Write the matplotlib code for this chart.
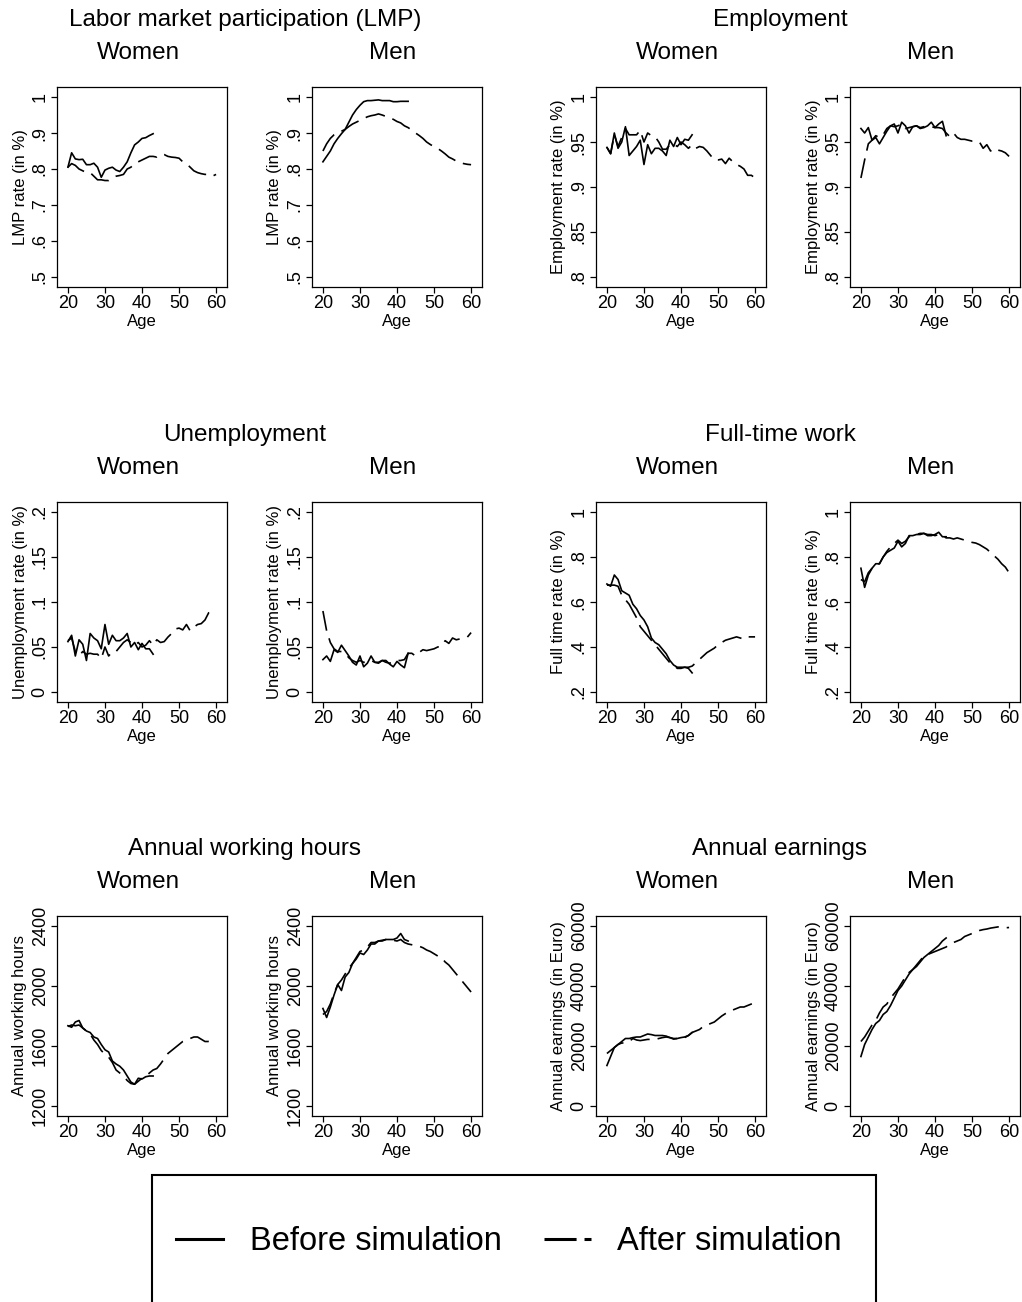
import numpy as np
import matplotlib
matplotlib.use("Agg")
import matplotlib.pyplot as plt
from matplotlib.lines import Line2D
from matplotlib.patches import Rectangle

plt.rcParams['font.family'] = ['Liberation Sans', 'DejaVu Sans']

W, H = 1022, 1302

age_before = np.arange(20, 44)
age_after = np.arange(20, 61)

# --- Labor market participation
lmp_women_before = [0.805, 0.845, 0.828, 0.826, 0.827, 0.812, 0.812, 0.816, 0.805, 0.777, 0.797, 0.802,
                    0.805, 0.797, 0.793, 0.805, 0.82, 0.845, 0.867, 0.875, 0.885, 0.887, 0.893, 0.898]
lmp_women_after = [0.805, 0.815, 0.81, 0.80, 0.795, 0.79, 0.79, 0.78, 0.77, 0.77, 0.768, 0.768, 0.775, 0.78,
                   0.782, 0.785, 0.80, 0.805, 0.815, 0.82, 0.825, 0.83, 0.835, 0.835, 0.833, 0.84, 0.84, 0.835,
                   0.833, 0.832, 0.83, 0.82, 0.815, 0.805, 0.795, 0.79, 0.787, 0.785, 0.785, 0.78, 0.785]
lmp_men_before = [0.82, 0.835, 0.85, 0.87, 0.885, 0.898, 0.91, 0.93, 0.95, 0.965, 0.977, 0.987,
                  0.99, 0.99, 0.991, 0.992, 0.99, 0.99, 0.99, 0.987, 0.987, 0.988, 0.988, 0.988]
lmp_men_after = [0.85, 0.87, 0.885, 0.895, 0.90, 0.905, 0.91, 0.918, 0.925, 0.93, 0.935, 0.94, 0.945, 0.948,
                 0.95, 0.953, 0.95, 0.946, 0.942, 0.938, 0.932, 0.928, 0.92, 0.915, 0.908, 0.90, 0.893, 0.885,
                 0.875, 0.868, 0.862, 0.857, 0.85, 0.842, 0.833, 0.828, 0.822, 0.818, 0.815, 0.813, 0.812]

# --- Employment
emp_women_before = [0.944, 0.937, 0.96, 0.943, 0.95, 0.967, 0.935, 0.94, 0.945, 0.952, 0.925, 0.947,
                    0.937, 0.943, 0.943, 0.94, 0.935, 0.952, 0.945, 0.955, 0.947, 0.953, 0.952, 0.958]
emp_women_after = [0.944, 0.937, 0.958, 0.945, 0.955, 0.965, 0.958, 0.958, 0.958, 0.963, 0.95, 0.96, 0.957,
                   0.956, 0.95, 0.942, 0.942, 0.947, 0.948, 0.945, 0.95, 0.947, 0.943, 0.947, 0.943, 0.945,
                   0.944, 0.94, 0.935, 0.93, 0.93, 0.931, 0.926, 0.932, 0.928, 0.925, 0.923, 0.92, 0.913,
                   0.913, 0.91]
emp_men_before = [0.965, 0.96, 0.966, 0.952, 0.955, 0.948, 0.955, 0.962, 0.968, 0.97, 0.96, 0.972,
                  0.968, 0.96, 0.967, 0.968, 0.965, 0.966, 0.968, 0.972, 0.966, 0.97, 0.973, 0.957]
emp_men_after = [0.91, 0.93, 0.948, 0.952, 0.957, 0.955, 0.958, 0.965, 0.968, 0.967, 0.968, 0.97, 0.965,
                 0.966, 0.967, 0.968, 0.966, 0.967, 0.967, 0.967, 0.966, 0.966, 0.965, 0.96, 0.956, 0.96,
                 0.955, 0.953, 0.953, 0.952, 0.951, 0.951, 0.95, 0.943, 0.947, 0.94, 0.943, 0.941, 0.94,
                 0.938, 0.934]

# --- Unemployment
unemp_women_before = [0.056, 0.063, 0.04, 0.058, 0.053, 0.035, 0.065, 0.06, 0.057, 0.048, 0.075, 0.053,
                      0.063, 0.057, 0.057, 0.06, 0.065, 0.05, 0.055, 0.047, 0.054, 0.048, 0.048, 0.042]
unemp_women_after = [0.057, 0.06, 0.045, 0.04, 0.045, 0.042, 0.043, 0.042, 0.042, 0.037, 0.05, 0.04, 0.045,
                     0.045, 0.05, 0.055, 0.058, 0.055, 0.052, 0.055, 0.05, 0.052, 0.057, 0.052, 0.058, 0.055,
                     0.056, 0.061, 0.065, 0.07, 0.071, 0.069, 0.075, 0.068, 0.072, 0.075, 0.076, 0.08, 0.088,
                     0.088, 0.091]
unemp_men_before = [0.036, 0.04, 0.034, 0.047, 0.044, 0.052, 0.046, 0.04, 0.033, 0.03, 0.04, 0.028,
                    0.032, 0.04, 0.033, 0.032, 0.035, 0.035, 0.031, 0.028, 0.034, 0.03, 0.027, 0.043]
unemp_men_after = [0.09, 0.068, 0.055, 0.048, 0.045, 0.045, 0.043, 0.038, 0.035, 0.033, 0.035, 0.033, 0.033,
                   0.035, 0.033, 0.033, 0.035, 0.033, 0.032, 0.033, 0.035, 0.035, 0.036, 0.043, 0.043, 0.04,
                   0.044, 0.047, 0.046, 0.047, 0.048, 0.05, 0.051, 0.057, 0.054, 0.06, 0.058, 0.059, 0.06,
                   0.061, 0.066]

# --- Full-time work
ft_women_before = [0.68, 0.67, 0.72, 0.70, 0.65, 0.64, 0.63, 0.59, 0.57, 0.54, 0.52, 0.49,
                   0.44, 0.42, 0.41, 0.39, 0.37, 0.34, 0.32, 0.31, 0.31, 0.31, 0.305, 0.285]
ft_women_after = [0.675, 0.675, 0.675, 0.67, 0.63, 0.61, 0.59, 0.56, 0.53, 0.49, 0.47, 0.45, 0.43, 0.41,
                  0.39, 0.37, 0.35, 0.33, 0.32, 0.305, 0.305, 0.31, 0.31, 0.315, 0.33, 0.345, 0.36, 0.375,
                  0.385, 0.395, 0.41, 0.42, 0.43, 0.435, 0.44, 0.445, 0.44, 0.435, 0.445, 0.445, 0.445]
ft_men_before = [0.75, 0.665, 0.72, 0.75, 0.77, 0.77, 0.80, 0.82, 0.83, 0.84, 0.87, 0.845,
                 0.86, 0.895, 0.895, 0.90, 0.90, 0.905, 0.895, 0.895, 0.90, 0.91, 0.89, 0.89]
ft_men_after = [0.70, 0.69, 0.73, 0.75, 0.77, 0.77, 0.80, 0.825, 0.845, 0.86, 0.875, 0.86, 0.87, 0.89,
                0.895, 0.90, 0.905, 0.905, 0.90, 0.90, 0.895, 0.90, 0.895, 0.885, 0.885, 0.88, 0.885, 0.88,
                0.875, 0.87, 0.865, 0.862, 0.855, 0.845, 0.835, 0.82, 0.805, 0.79, 0.77, 0.755, 0.73]

# --- Annual working hours
hours_women_before = [1735, 1725, 1760, 1770, 1720, 1700, 1690, 1660, 1650, 1610, 1575, 1560,
                      1500, 1480, 1465, 1440, 1400, 1360, 1345, 1385, 1380, 1395, 1400, 1400]
hours_women_after = [1730, 1740, 1735, 1740, 1720, 1700, 1680, 1640, 1610, 1570, 1545, 1525, 1490, 1440,
                     1420, 1400, 1370, 1350, 1345, 1365, 1385, 1395, 1420, 1440, 1450, 1480, 1515, 1550,
                     1570, 1590, 1610, 1630, 1640, 1650, 1660, 1660, 1645, 1630, 1630, 1625, 1620]
hours_men_before = [1850, 1790, 1860, 1940, 2010, 1970, 2060, 2090, 2150, 2180, 2220, 2210,
                    2240, 2280, 2280, 2300, 2300, 2310, 2310, 2310, 2320, 2350, 2310, 2300]
hours_men_after = [1810, 1830, 1880, 1950, 2010, 2040, 2080, 2120, 2150, 2190, 2230, 2240, 2260, 2290,
                   2290, 2300, 2305, 2310, 2310, 2305, 2300, 2310, 2290, 2280, 2275, 2270, 2265, 2255,
                   2240, 2230, 2215, 2200, 2190, 2160, 2140, 2110, 2080, 2050, 2020, 1990, 1960]

# --- Annual earnings
earn_women_before = [13500, 16500, 19500, 20500, 21500, 22500, 22500, 22800, 23000, 23000, 23500, 24000,
                     23800, 23500, 23500, 23500, 23300, 22800, 22500, 22500, 22800, 23000, 23500, 24500]
earn_women_after = [17500, 18500, 19500, 20500, 21000, 21000, 21500, 22500, 22000, 21800, 22000, 22200,
                    22200, 22200, 22500, 22800, 23000, 22800, 22300, 22500, 22500, 22800, 23500, 24500,
                    25000, 25500, 26500, 27000, 27500, 28000, 29000, 30000, 30800, 31500, 32000, 32500,
                    33000, 33000, 33500, 34000, 34500]
earn_men_before = [16500, 20500, 23000, 25500, 27500, 28500, 30500, 31500, 33500, 36000, 38500, 40000,
                   42000, 44000, 45500, 46500, 48000, 49500, 50500, 51500, 52500, 53500, 55000, 56000]
earn_men_after = [21500, 23000, 25000, 27000, 28500, 31000, 33000, 34000, 36000, 37500, 39000, 41000,
                  43000, 44500, 45500, 47000, 48500, 50000, 50500, 51000, 51500, 52000, 52500, 53000,
                  54000, 54500, 55000, 55500, 56500, 57000, 57500, 58000, 58500, 58800, 59000, 59300,
                  59500, 59700, 59500, 59400, 59500]

group_titles = ["Labor market participation (LMP)", "Employment", "Unemployment",
                "Full-time work", "Annual working hours", "Annual earnings"]
sex_titles = ["Women", "Men"]
x_ticks = [20, 30, 40, 50, 60]

# (ylabel, ytick values, ytick labels) per group
y_axes = [
    ("LMP rate (in %)", [0.5, 0.6, 0.7, 0.8, 0.9, 1.0], [".5", ".6", ".7", ".8", ".9", "1"]),
    ("Employment rate (in %)", [0.8, 0.85, 0.9, 0.95, 1.0], [".8", ".85", ".9", ".95", "1"]),
    ("Unemployment rate (in %)", [0, 0.05, 0.1, 0.15, 0.2], ["0", ".05", ".1", ".15", ".2"]),
    ("Full time rate (in %)", [0.2, 0.4, 0.6, 0.8, 1.0], [".2", ".4", ".6", ".8", "1"]),
    ("Annual working hours", [1200, 1600, 2000, 2400], ["1200", "1600", "2000", "2400"]),
    ("Annual earnings (in Euro)", [0, 20000, 40000, 60000], ["0", "20000", "40000", "60000"]),
]
series = [
    ((lmp_women_before, lmp_women_after), (lmp_men_before, lmp_men_after)),
    ((emp_women_before, emp_women_after), (emp_men_before, emp_men_after)),
    ((unemp_women_before, unemp_women_after), (unemp_men_before, unemp_men_after)),
    ((ft_women_before, ft_women_after), (ft_men_before, ft_men_after)),
    ((hours_women_before, hours_women_after), (hours_men_before, hours_men_after)),
    ((earn_women_before, earn_women_after), (earn_men_before, earn_men_after)),
]

# layout in pixels
col_left = [57, 312, 596, 850]
col_w = 170
row_top = [87, 502, 916]
row_h = 200
group_cx = [245, 780]
sub_cx = [138, 393, 677, 931]

dash = (12, 4.8)
lw = 1.2

fig = plt.figure(figsize=(W / 100, H / 100), dpi=100)

for g in range(6):
    row, block = divmod(g, 2)
    ylabel, yt, ytl = y_axes[g]
    lo, hi = yt[0], yt[-1]
    pad = 0.0556 * (hi - lo)
    top = row_top[row]
    fig.text(group_cx[block] / W, 1 - (top - 67) / H, group_titles[g],
             ha="center", va="center", fontsize=17.5)
    for s in range(2):
        col = block * 2 + s
        ax = fig.add_axes([col_left[col] / W, 1 - (top + row_h) / H, col_w / W, row_h / H])
        before, after = series[g][s]
        ax.plot(age_before, before, color="black", lw=lw, solid_joinstyle="round")
        ax.plot(age_after, after, color="black", lw=lw, dashes=dash)
        ax.set_xlim(17.05, 62.95)
        ax.set_ylim(lo - pad, hi + pad)
        ax.set_xticks(x_ticks)
        ax.set_yticks(yt)
        ax.set_yticklabels(ytl, rotation=90, va="center")
        ax.tick_params(direction="out", length=4, width=0.9, labelsize=13, pad=2)
        ax.set_xlabel("Age", fontsize=12, labelpad=1)
        ax.set_ylabel(ylabel, fontsize=12, labelpad=3)
        for sp in ax.spines.values():
            sp.set_linewidth(0.9)
        fig.text(sub_cx[col] / W, 1 - (top - 34) / H, sex_titles[s],
                 ha="center", va="center", fontsize=17.5)

# legend box, cut off at the bottom edge like the original
fig.patches.append(Rectangle((152 / W, -0.02), (876 - 152) / W, (H - 1175) / H + 0.02,
                             transform=fig.transFigure, fill=False, lw=1.5, edgecolor="black"))
handles = [Line2D([], [], color="black", lw=2.2),
           Line2D([], [], color="black", lw=2.2, dashes=(10.5, 2.6))]
fig.legend(handles, ["Before simulation", "After simulation"], loc="center",
           bbox_to_anchor=(509 / W, 1 - 1242 / H), ncol=2, frameon=False, fontsize=23.5,
           handlelength=1.45, handletextpad=0.8, columnspacing=1.3)

fig.savefig("out.png", dpi=100)
